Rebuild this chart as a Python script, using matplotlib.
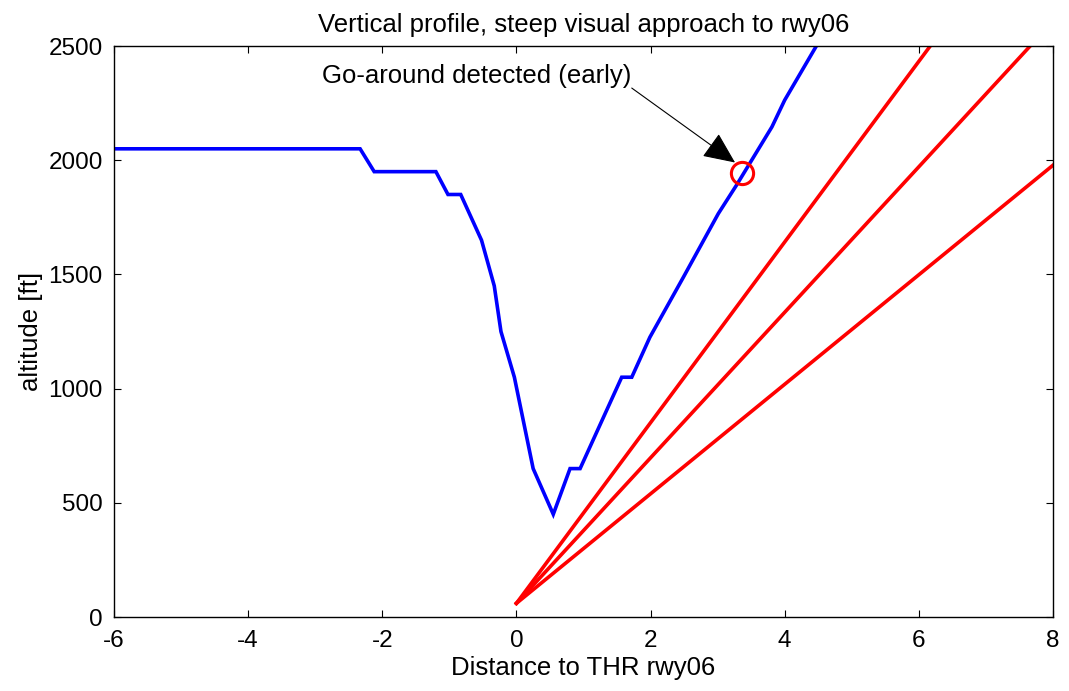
import matplotlib
matplotlib.use("Agg")
import matplotlib.pyplot as plt

plt.rcParams['font.family'] = ['Liberation Sans', 'DejaVu Sans']
plt.rcParams['axes.unicode_minus'] = False

# Flight track (distance to THR [NM], altitude [ft])
track_x = [-6, -2.33, -2.12, -1.2, -1.02, -0.83, -0.52, -0.33, -0.23, -0.03,
           0.25, 0.55, 0.80, 0.95, 1.57, 1.72, 1.99, 2.49, 3.01, 3.28, 3.81, 4.0, 4.48]
track_y = [2050, 2050, 1950, 1950, 1850, 1850, 1650, 1450, 1250, 1050,
           650, 450, 650, 650, 1050, 1050, 1225, 1488, 1766, 1890, 2146, 2263, 2504]

# Reference glide paths (start, end)
glide_x = [[0, 6.17], [0, 7.66], [0, 8.0]]
glide_y = [[60, 2500], [60, 2500], [60, 1978]]

# Go-around detection point
ga_x = [3.37]
ga_y = [1946]

FS_TICK = 17.5
FS_TEXT = 18.5

fig = plt.figure(figsize=(10.69, 6.91), dpi=100)
ax = fig.add_axes([0.1066, 0.107, 0.8784, 0.8264])

ax.plot(track_x, track_y, color='#0000ff', lw=2.6, solid_joinstyle='miter')
for gx, gy in zip(glide_x, glide_y):
    ax.plot(gx, gy, color='#ff0000', lw=2.6)
ax.plot(ga_x, ga_y, 'o', ms=16, mfc='none', mec='#ff0000', mew=2.2)

ax.text(-2.9, 2368, 'Go-around detected (early)', fontsize=FS_TEXT, va='center', ha='left')
ax.annotate('', xy=(3.26, 1990), xytext=(1.72, 2316),
            arrowprops=dict(arrowstyle='-|>,head_length=1.0,head_width=0.45',
                            color='black', lw=0.8, shrinkA=0, shrinkB=0,
                            mutation_scale=20))

ax.set_xlim(-6, 8)
ax.set_ylim(0, 2500)
ax.set_xticks(range(-6, 9, 2))
ax.set_yticks(range(0, 2501, 500))
ax.tick_params(direction='in', top=True, right=True, length=5, labelsize=FS_TICK)
ax.tick_params(axis='x', pad=9)
ax.tick_params(axis='y', pad=8)
for s in ax.spines.values():
    s.set_linewidth(1.0)

ax.set_title('Vertical profile, steep visual approach to rwy06', fontsize=FS_TEXT, pad=10)
ax.set_xlabel('Distance to THR rwy06', fontsize=FS_TEXT, labelpad=3)
ax.set_ylabel('altitude [ft]', fontsize=FS_TEXT, labelpad=4)

fig.savefig('out.png', dpi=100)
